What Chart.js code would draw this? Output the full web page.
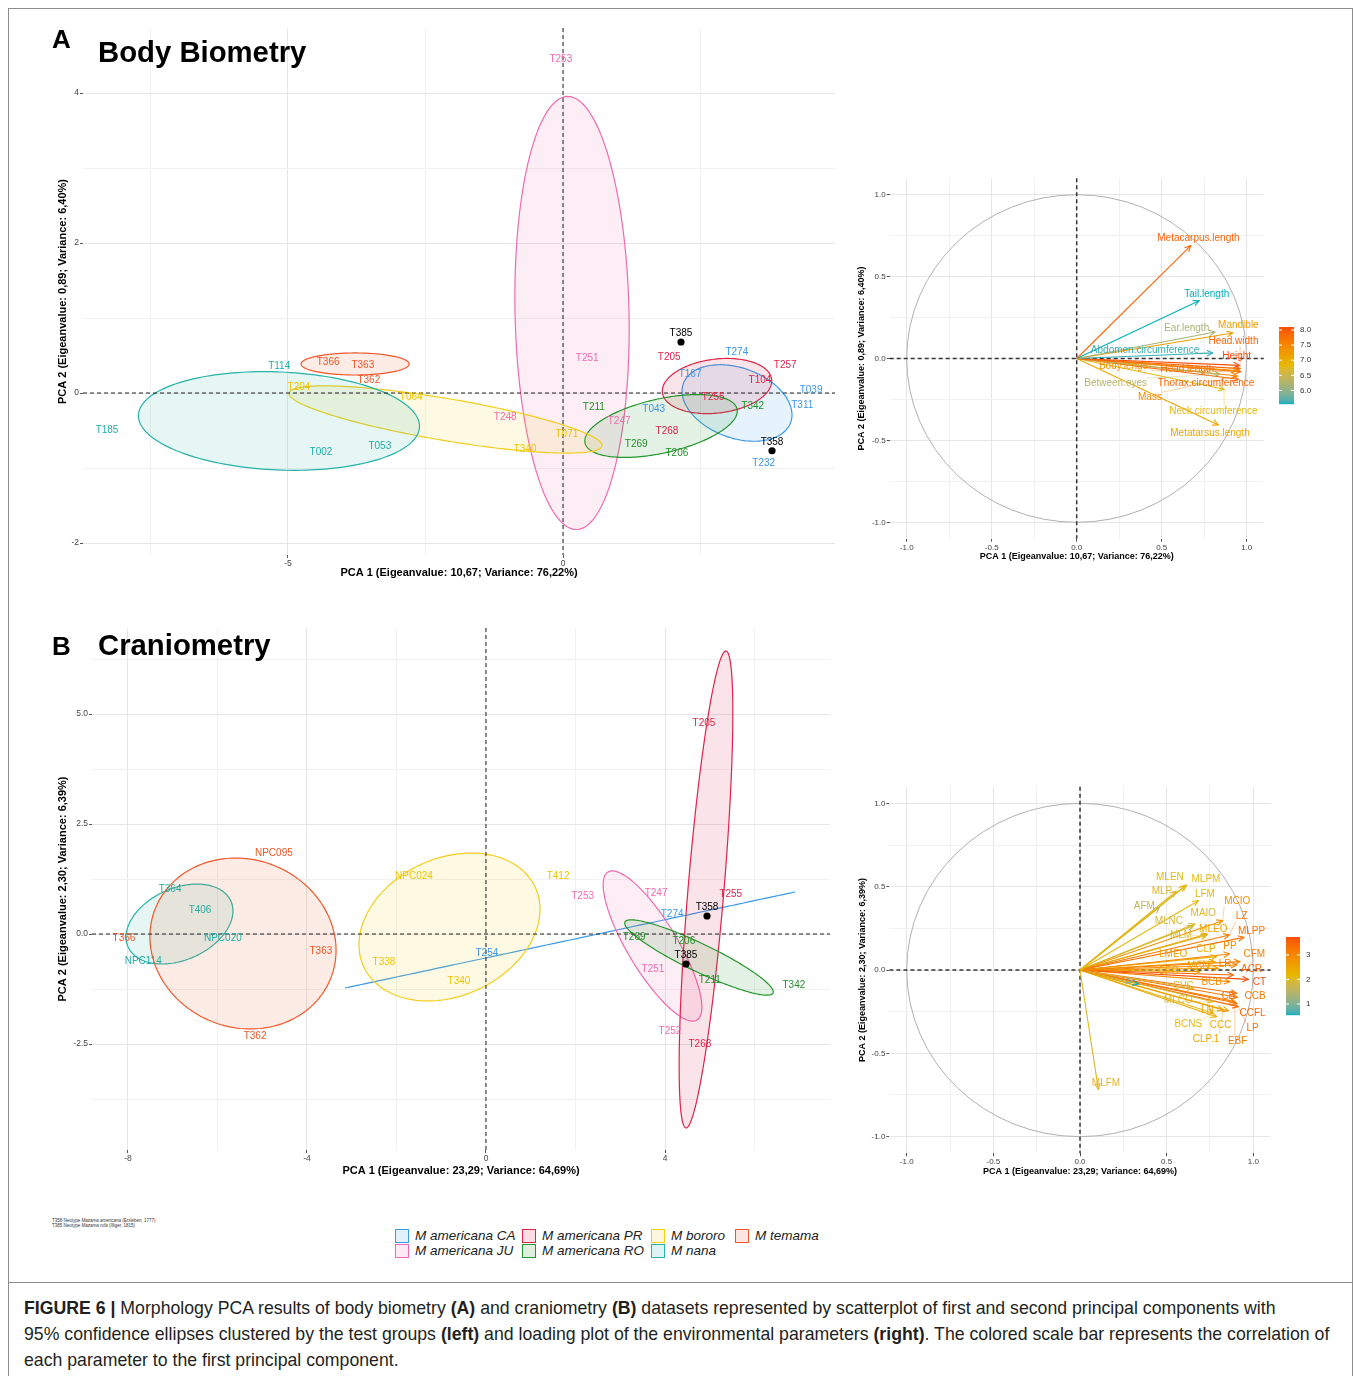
<!DOCTYPE html>
<html><head><meta charset="utf-8">
<script src="https://cdn.jsdelivr.net/npm/chart.js@4.4.1/dist/chart.umd.min.js"></script>
<style>
html,body{margin:0;padding:0;background:#fff;}
#page{position:relative;width:1354px;height:1376px;overflow:hidden;font-family:"Liberation Sans",Arial,Helvetica,sans-serif;background:#fff;}
canvas{position:absolute;}
.abs{position:absolute;white-space:nowrap;line-height:1;}
.ttl{font-weight:bold;color:#000;}
.leg{position:absolute;display:flex;align-items:center;height:15px;font-style:italic;font-size:13.5px;color:#222;white-space:nowrap;}
.leg span.sq{display:inline-block;width:12px;height:12px;border:1.5px solid;margin-right:6px;}
.cap{position:absolute;left:24px;top:1295px;font-size:17.7px;line-height:26px;color:#231f20;white-space:nowrap;}
.line{position:absolute;background:#8c8c8c;}
</style></head>
<body><div id="page">
<div class="line" style="left:8px;top:8px;width:1345px;height:1px"></div>
<div class="line" style="left:8px;top:8px;width:1px;height:1368px"></div>
<div class="line" style="left:1352px;top:8px;width:1px;height:1368px"></div>
<div class="line" style="left:8px;top:1282px;width:1345px;height:1px"></div>

<canvas id="cA" width="850" height="600" style="left:0px;top:0px"></canvas>
<canvas id="cLA" width="510" height="430" style="left:840px;top:150px"></canvas>
<canvas id="cB" width="850" height="600" style="left:0px;top:600px"></canvas>
<canvas id="cLB" width="510" height="430" style="left:840px;top:760px"></canvas>

<div class="abs ttl" style="left:52px;top:26px;font-size:26px;">A</div>
<div class="abs ttl" style="left:98px;top:37px;font-size:29.3px;">Body Biometry</div>
<div class="abs ttl" style="left:52px;top:633px;font-size:26px;">B</div>
<div class="abs ttl" style="left:98px;top:630px;font-size:29.3px;">Craniometry</div>

<div class="abs" style="left:52px;top:1218px;font-size:4.5px;line-height:5px;color:#333;">T358 Neotype <i>Mazama americana</i> (Erxleben, 1777)<br>T385 Neotype <i>Mazama rufa</i> (Illiger, 1815)</div>
<div id="legend"></div>

<div class="cap"><b>FIGURE 6 |</b> Morphology PCA results of body biometry <b>(A)</b> and craniometry <b>(B)</b> datasets represented by scatterplot of first and second principal components with<br>95% confidence ellipses clustered by the test groups <b>(left)</b> and loading plot of the environmental parameters <b>(right)</b>. The colored scale bar represents the correlation of<br>each parameter to the first principal component.</div>
</div>
<script>
// ================= DATA =================
const groupNames = ['M americana CA','M americana JU','M americana PR','M americana RO','M bororo','M nana','M temama'];

// ---- Body biometry: individual scores (PC1, PC2) ----
const bodyIds   = ['T039','T311','T232','T274','T167','T043','T253','T251','T248','T247','T205','T104','T255','T268','T257','T211','T269','T206','T342','T204','T064','T071','T340','T114','T185','T002','T053','T366','T363','T362'];
const bodyPC1   = [4.51, 4.35, 3.65, 3.16, 2.31, 1.65, -0.04, 0.44, -1.05, 1.02, 1.93, 3.58, 2.73, 1.89, 4.04, 0.56, 1.33, 2.07, 3.45, -4.80, -2.76, 0.07, -0.69, -5.16, -8.29, -4.40, -3.33, -4.27, -3.64, -3.53];
const bodyPC2   = [0.04, -0.16, -0.93, 0.55, 0.25, -0.21, 4.45, 0.47, -0.32, -0.37, 0.48, 0.17, -0.05, -0.51, 0.37, -0.19, -0.68, -0.80, -0.17, 0.08, -0.05, -0.55, -0.75, 0.36, -0.49, -0.79, -0.71, 0.41, 0.37, 0.17];
const bodyGroup = [0,0,0,0,0,0, 1,1,1,1, 2,2,2,2,2, 3,3,3,3, 4,4,4,4, 5,5,5,5, 6,6,6];
const bodyTypeIds = ['T385','T358'];
const bodyTypePC1 = [2.145, 3.80];
const bodyTypePC2 = [0.68, -0.77];
// 95% ellipses per group: centre, semi-axis U, conjugate semi-axis V (PC units)
const bodyEllCenter = [[3.164,-0.133],[0.164,1.067],[2.80,0.093],[1.782,-0.44],[-2.136,-0.353],[-5.164,-0.373],[-3.78,0.387]];
const bodyEllU      = [[0.975,-0.26],[0.082,-2.887],[0.993,0.089],[1.382,0.227],[2.845,-0.353],[2.555,-0.08],[0.982,0]];
const bodyEllV      = [[-0.218,-0.439],[1.036,0.016],[0.06,-0.357],[0.107,-0.352],[-0.064,-0.276],[-0.038,-0.653],[0,0.147]];
const bodyXTicks  = [-7.5,-5,-2.5,0,2.5];
const bodyXLabels = ['','-5','','0',''];
const bodyYTicks  = [-2,-1,0,1,2,3,4];
const bodyYLabels = ['-2','','0','','2','','4'];

// ---- Craniometry: individual scores ----
const cranIds   = ['T254','T274','T253','T247','T251','T252','T205','T255','T268','T269','T206','T211','T342','NPC024','T412','T338','T340','T364','T406','NPC020','NPC114','NPC095','T366','T363','T362'];
const cranPC1   = [0.02, 4.16, 2.16, 3.80, 3.73, 4.11, 4.87, 5.47, 4.78, 3.31, 4.42, 5.00, 6.88, -1.61, 1.61, -2.28, -0.605, -7.06, -6.39, -5.88, -7.66, -4.74, -8.09, -3.69, -5.16];
const cranPC2   = [-0.43, 0.45, 0.86, 0.93, -0.80, -2.20, 4.80, 0.91, -2.50, -0.07, -0.16, -1.05, -1.16, 1.32, 1.32, -0.64, -1.07, 1.02, 0.545, -0.09, -0.61, 1.84, -0.09, -0.39, -2.32];
const cranGroup = [0,0, 1,1,1,1, 2,2,2, 3,3,3,3, 4,4,4,4, 5,5,5,5, 6,6,6,6];
const cranTypeIds = ['T358','T385'];
const cranTypePC1 = [4.939, 4.469];
const cranTypePC2 = [0.409, -0.682];
const cranEllCenter = [[1.877,-0.136],[3.721,-0.273],[4.916,1.011],[4.76,-0.534],[-0.816,0.159],[-6.849,0.227],[-5.43,-0.216]];
const cranEllU      = [[5.028,1.091],[0.994,-1.682],[0.447,5.42],[1.654,-0.807],[1.917,0.902],[1.149,0.52],[1.96,-0.793]];
const cranEllV      = [[0,0],[0.478,0.293],[0.4,-0.034],[-0.136,-0.286],[0.646,-1.418],[0.326,-0.745],[-0.695,-1.773]];
const cranXTicks  = [-8,-6,-4,-2,0,2,4,6];
const cranXLabels = ['-8','','-4','','0','','4',''];
const cranYTicks  = [-3.75,-2.5,-1.25,0,1.25,2.5,3.75,5,6.25];
const cranYLabels = ['','-2.5','','0.0','','2.5','','5.0',''];

// ---- Body biometry: variable loadings ----
const bodyVars    = ['Metacarpus.length','Tail.length','Ear.length','Mandible','Abdomen.circumference','Head.width','Height','Body.length','Head.length','Between.eyes','Thorax.circumference','Mass','Neck.circumference','Metatarsus.length'];
const bodyDim1    = [0.671, 0.72, 0.814, 0.918, 0.80, 0.961, 0.957, 0.941, 0.965, 0.843, 0.951, 0.945, 0.867, 0.833];
const bodyDim2    = [0.689, 0.353, 0.162, 0.156, 0.034, -0.062, -0.042, -0.074, -0.08, -0.097, -0.127, -0.107, -0.188, -0.406];
const bodyContrib = [7.9, 5.55, 6.2, 7.2, 5.6, 7.9, 8.1, 7.4, 7.8, 6.3, 7.9, 7.5, 6.8, 7.1];
const bodyLabX    = [0.716, 0.765, 0.647, 0.951, 0.402, 0.922, 0.941, 0.284, 0.651, 0.229, 0.761, 0.431, 0.804, 0.784];
const bodyLabY    = [0.733, 0.392, 0.184, 0.20, 0.048, 0.103, 0.015, -0.05, -0.066, -0.15, -0.152, -0.237, -0.323, -0.457];
const bodyBarTicks  = [6.0, 6.5, 7.0, 7.5, 8.0];
const bodyBarLabels = ['6.0','6.5','7.0','7.5','8.0'];

// ---- Craniometry: variable loadings ----
const cranVars    = ['MLEN','MLPM','MLP','AFM','LFM','MCIO','MAIO','LZ','MLNC','MLEO','MLPP','MLM','PP','CLP','CFM','LMEO','LR','MCN','ACR','CFO','CT','BCB','CVC','CB','CCB','MLCO','CCFL','LN','CCC','BCNS','LP','CLP.1','EBF','MLFM','',''];
const cranDim1    = [0.606, 0.615, 0.554, 0.458, 0.683, 0.823, 0.663, 0.862, 0.654, 0.735, 0.946, 0.731, 0.862, 0.788, 0.923, 0.779, 0.904, 0.798, 0.885, 0.692, 0.971, 0.865, 0.654, 0.904, 0.908, 0.769, 0.913, 0.856, 0.788, 0.769, 0.904, 0.827, 0.894, 0.106, 0.337, 0.298];
const cranDim2    = [0.504, 0.51, 0.472, 0.376, 0.416, 0.296, 0.276, 0.21, 0.266, 0.216, 0.196, 0.208, 0.096, 0.08, 0.05, 0.05, 0.03, 0.01, -0.03, -0.01, -0.056, -0.07, -0.11, -0.14, -0.164, -0.19, -0.22, -0.244, -0.28, -0.26, -0.20, -0.24, -0.19, -0.716, -0.084, -0.07];
const cranContrib = [2.1, 2.1, 2.0, 1.6, 2.1, 2.8, 2.0, 3.2, 1.9, 2.5, 3.3, 2.0, 3.0, 2.3, 3.1, 2.5, 3.0, 2.6, 3.5, 2.5, 3.73, 2.9, 1.9, 3.3, 3.2, 2.0, 3.4, 2.6, 2.4, 2.1, 3.3, 2.5, 3.1, 2.0, 0.55, 0.9];
const cranLabX    = [0.519, 0.727, 0.473, 0.371, 0.721, 0.908, 0.712, 0.933, 0.513, 0.769, 0.99, 0.583, 0.865, 0.727, 1.006, 0.538, 0.837, 0.683, 0.99, 0.51, 1.035, 0.76, 0.596, 0.856, 1.01, 0.567, 0.996, 0.735, 0.812, 0.625, 0.996, 0.727, 0.91, 0.15, 0, 0];
const cranLabY    = [0.558, 0.544, 0.474, 0.384, 0.456, 0.41, 0.34, 0.32, 0.29, 0.246, 0.23, 0.21, 0.144, 0.124, 0.096, 0.096, 0.034, 0.02, 0.004, -0.01, -0.076, -0.074, -0.10, -0.156, -0.16, -0.18, -0.26, -0.24, -0.33, -0.326, -0.35, -0.414, -0.43, -0.68, 0, 0];
const cranBarTicks  = [1, 2, 3];
const cranBarLabels = ['1','2','3'];

const loadTicks  = [-1,-0.75,-0.5,-0.25,0,0.25,0.5,0.75,1];
const loadLabels = ['-1.0','','-0.5','','0.0','','0.5','','1.0'];

// ================= STYLE =================
const FONT = '"Liberation Sans", Arial, Helvetica, sans-serif';
Chart.defaults.font.family = FONT;
const groupColors = ['#3b9ae8','#f06aaf','#dc2448','#23962b','#f2cd1c','#26b2a7','#f0582a'];
const groupText   = ['#3a96ea','#f06aaf','#dc2448','#1f8f26','#efc400','#22aea3','#ef5525'];

function hex2rgb(h){return [1,3,5].map(i=>parseInt(h.substr(i,2),16));}
function rgb2lab(c){
  const lin=v=>{v/=255;return v<=0.04045?v/12.92:Math.pow((v+0.055)/1.055,2.4);};
  const R=lin(c[0]),G=lin(c[1]),B=lin(c[2]);
  const X=(0.4124*R+0.3576*G+0.1805*B)/0.95047,Y=0.2126*R+0.7152*G+0.0722*B,Z=(0.0193*R+0.1192*G+0.9505*B)/1.08883;
  const f=t=>t>0.008856?Math.cbrt(t):7.787*t+16/116;
  const fx=f(X),fy=f(Y),fz=f(Z);
  return [116*fy-16,500*(fx-fy),200*(fy-fz)];
}
function lab2rgb(l){
  const fy=(l[0]+16)/116,fx=fy+l[1]/500,fz=fy-l[2]/200;
  const fi=t=>{const t3=t*t*t;return t3>0.008856?t3:(t-16/116)/7.787;};
  const X=fi(fx)*0.95047,Y=fi(fy),Z=fi(fz)*1.08883;
  const R=3.2406*X-1.5372*Y-0.4986*Z,G=-0.9689*X+1.8758*Y+0.0415*Z,B=0.0557*X-0.2040*Y+1.0570*Z;
  const g=c=>{c=c<=0.0031308?12.92*c:1.055*Math.pow(c,1/2.4)-0.055;return Math.round(Math.max(0,Math.min(1,c))*255);};
  return [g(R),g(G),g(B)];
}
const gradStops=['#00AFBB','#E7B800','#FC4E07'].map(h=>rgb2lab(hex2rgb(h)));
function gradColor(t){
  t=Math.max(0,Math.min(1,t));const s=t*2;const i=Math.min(1,Math.floor(s));const f=s-i;
  const A=gradStops[i],B=gradStops[i+1];
  const c=lab2rgb([A[0]+(B[0]-A[0])*f,A[1]+(B[1]-A[1])*f,A[2]+(B[2]-A[2])*f]);
  return 'rgb('+c.join(',')+')';
}
function withAlpha(hex,a){const c=hex2rgb(hex);return 'rgba('+c[0]+','+c[1]+','+c[2]+','+a+')';}

// legend
(function(){
  const L=document.getElementById('legend');
  const items=[[0,395,1228],[2,522,1228],[4,651,1228],[6,735,1228],[1,395,1243],[3,522,1243],[5,651,1243]];
  items.forEach(([g,x,y])=>{
    const d=document.createElement('div');d.className='leg';d.style.left=x+'px';d.style.top=y+'px';
    d.innerHTML='<span class="sq" style="border-color:'+groupColors[g]+';background:'+withAlpha(groupColors[g],0.15)+'"></span>'+groupNames[g];
    L.appendChild(d);
  });
})();

// ================= SCALES =================
function axisScale(axis,min,max,ticks,labels,title,titleSize,tickSize,fixed,titlePad){
  return {
    type:'linear',position:axis==='x'?'bottom':'left',min:min,max:max,bounds:'data',
    afterBuildTicks:s=>{s.ticks=ticks.map(v=>({value:v}));},
    afterFit:s=>{if(axis==='x')s.height=fixed;else s.width=fixed;},
    ticks:{autoSkip:false,maxRotation:0,minRotation:0,padding:1,color:'#444',font:{family:FONT,size:tickSize},callback:(v,i)=>labels[i]},
    grid:{drawTicks:true,tickLength:3,lineWidth:1,
      color:c=>labels[c.index]!==''?'#e6e6e6':'#f1f1f1',
      tickColor:c=>labels[c.index]!==''?'#555':'rgba(0,0,0,0)'},
    border:{display:false},
    title:{display:true,text:title,color:'#000',font:{family:FONT,size:titleSize,weight:'bold'},padding:{top:titlePad,bottom:0}}
  };
}
function px(chart,x,y){return [chart.scales.x.getPixelForValue(x),chart.scales.y.getPixelForValue(y)];}

function zeroLines(width,dash,color){
  return {id:'zeroLines',beforeDatasetsDraw(chart){
    const {ctx,chartArea:a}=chart;const o=px(chart,0,0);
    ctx.save();ctx.strokeStyle=color;ctx.lineWidth=width;ctx.setLineDash(dash);
    ctx.beginPath();ctx.moveTo(o[0],a.top);ctx.lineTo(o[0],a.bottom);ctx.moveTo(a.left,o[1]);ctx.lineTo(a.right,o[1]);ctx.stroke();ctx.restore();
  }};
}

function ellipsePlugin(centers,U,V){
  return {id:'ellipses',beforeDatasetsDraw(chart){
    const {ctx,chartArea:a}=chart;
    ctx.save();ctx.beginPath();ctx.rect(a.left,a.top,a.right-a.left,a.bottom-a.top);ctx.clip();
    centers.forEach((c,i)=>{
      const p0=px(chart,c[0],c[1]);const pu=px(chart,c[0]+U[i][0],c[1]+U[i][1]);const pv=px(chart,c[0]+V[i][0],c[1]+V[i][1]);
      const ux=pu[0]-p0[0],uy=pu[1]-p0[1],vx=pv[0]-p0[0],vy=pv[1]-p0[1];
      ctx.beginPath();
      for(let k=0;k<=180;k++){const t=2*Math.PI*k/180;const x=p0[0]+ux*Math.cos(t)+vx*Math.sin(t),y=p0[1]+uy*Math.cos(t)+vy*Math.sin(t);if(k===0)ctx.moveTo(x,y);else ctx.lineTo(x,y);}
      ctx.closePath();
      ctx.fillStyle=withAlpha(groupColors[i],0.12);ctx.fill();
      ctx.strokeStyle=groupColors[i];ctx.lineWidth=1.2;ctx.stroke();
    });
    ctx.restore();
  }};
}

const scoreLabels={id:'scoreLabels',afterDatasetsDraw(chart){
  const ctx=chart.ctx;ctx.save();ctx.font='10px '+FONT;ctx.textAlign='center';ctx.textBaseline='middle';
  chart.data.datasets.forEach((ds,di)=>{
    const meta=chart.getDatasetMeta(di);
    meta.data.forEach((el,i)=>{
      ctx.fillStyle=ds.textColor;
      ctx.fillText(ds.ids[i],el.x,el.y+(ds.kind==='type'?-8.5:0));
    });
  });
  ctx.restore();
}};

function scoreChart(id,o){
  const datasets=groupNames.map((g,gi)=>{
    const data=[],ids=[];
    o.ids.forEach((s,i)=>{if(o.group[i]===gi){data.push({x:o.pc1[i],y:o.pc2[i]});ids.push(s);}});
    return {label:g,data:data,ids:ids,textColor:groupText[gi],kind:'label',pointRadius:0,pointHoverRadius:0};
  });
  datasets.push({label:'Neotypes',data:o.typeIds.map((s,i)=>({x:o.tpc1[i],y:o.tpc2[i]})),ids:o.typeIds,textColor:'#000',kind:'type',pointRadius:3.6,pointBackgroundColor:'#000',pointBorderWidth:0});
  return new Chart(document.getElementById(id),{
    type:'scatter',data:{datasets:datasets},
    options:{responsive:false,animation:false,events:[],layout:{padding:o.pad},
      plugins:{legend:{display:false},tooltip:{enabled:false}},
      scales:{x:axisScale('x',o.xr[0],o.xr[1],o.xt,o.xl,'PCA 1 (Eigeanvalue: '+o.ev1+')',11,8.5,o.xh,0),
              y:axisScale('y',o.yr[0],o.yr[1],o.yt,o.yl,'PCA 2 (Eigeanvalue: '+o.ev2+')',11,8.5,o.yw,1)}},
    plugins:[ellipsePlugin(o.ec,o.eu,o.ev),zeroLines(1,[4,3],'#222'),scoreLabels]
  });
}

function loadingChart(id,o){
  const cmin=Math.min(...o.contrib),cmax=Math.max(...o.contrib);
  const cols=o.contrib.map(c=>gradColor((c-cmin)/(cmax-cmin)));
  const datasets=o.vars.map((v,i)=>({label:v,data:[{x:0,y:0},{x:o.d1[i],y:o.d2[i]}],showLine:true,borderColor:cols[i],borderWidth:1.1,pointRadius:0,fill:false}));
  const circle={id:'circle',beforeDatasetsDraw(chart){
    const ctx=chart.ctx;const c=px(chart,0,0),e=px(chart,1,1);
    ctx.save();ctx.strokeStyle='#b0b0b0';ctx.lineWidth=1;ctx.beginPath();ctx.ellipse(c[0],c[1],Math.abs(e[0]-c[0]),Math.abs(e[1]-c[1]),0,0,Math.PI*2);ctx.stroke();ctx.restore();
  }};
  const heads={id:'heads',afterDatasetsDraw(chart){
    const ctx=chart.ctx;ctx.save();ctx.lineWidth=1.1;
    chart.data.datasets.forEach((ds,di)=>{
      const m=chart.getDatasetMeta(di);const a=m.data[0],b=m.data[1];
      const ang=Math.atan2(b.y-a.y,b.x-a.x),L=6.5,w=0.45;
      ctx.strokeStyle=ds.borderColor;ctx.beginPath();
      ctx.moveTo(b.x-L*Math.cos(ang-w),b.y-L*Math.sin(ang-w));ctx.lineTo(b.x,b.y);ctx.lineTo(b.x-L*Math.cos(ang+w),b.y-L*Math.sin(ang+w));ctx.stroke();
    });
    ctx.font='10px '+FONT;ctx.textAlign='center';ctx.textBaseline='middle';
    o.vars.forEach((v,i)=>{
      if(!v)return;
      const p=px(chart,o.lx[i],o.ly[i]);const tip=chart.getDatasetMeta(i).data[1];
      const w=ctx.measureText(v).width,h=10;
      const nx=Math.max(p[0]-w/2,Math.min(tip.x,p[0]+w/2)),ny=Math.max(p[1]-h/2,Math.min(tip.y,p[1]+h/2));
      if(Math.hypot(nx-tip.x,ny-tip.y)>8){ctx.save();ctx.globalAlpha=0.55;ctx.lineWidth=0.7;ctx.strokeStyle=cols[i];ctx.beginPath();ctx.moveTo(nx,ny);ctx.lineTo(tip.x,tip.y);ctx.stroke();ctx.restore();}
      ctx.fillStyle=cols[i];ctx.fillText(v,p[0],p[1]);
    });
    ctx.restore();
  }};
  const bar={id:'colorbar',afterDraw(chart){
    const ctx=chart.ctx;const r=o.bar;ctx.save();
    for(let y=0;y<r[3];y++){const val=cmax-(y+0.5)/r[3]*(cmax-cmin);ctx.fillStyle=gradColor((val-cmin)/(cmax-cmin));ctx.fillRect(r[0],r[1]+y,r[2],1.2);}
    ctx.font='8px '+FONT;ctx.fillStyle='#333';ctx.textAlign='left';ctx.textBaseline='middle';
    o.bt.forEach((t,i)=>{
      const y=r[1]+(cmax-t)/(cmax-cmin)*r[3];
      ctx.strokeStyle='#fff';ctx.lineWidth=1;ctx.beginPath();ctx.moveTo(r[0],y);ctx.lineTo(r[0]+3,y);ctx.moveTo(r[0]+r[2]-3,y);ctx.lineTo(r[0]+r[2],y);ctx.stroke();
      ctx.fillText(o.bl[i],r[0]+r[2]+6,y);
    });
    ctx.restore();
  }};
  return new Chart(document.getElementById(id),{
    type:'scatter',data:{datasets:datasets},
    options:{responsive:false,animation:false,events:[],layout:{padding:o.pad},
      plugins:{legend:{display:false},tooltip:{enabled:false}},
      scales:{x:axisScale('x',-1.1,1.1,loadTicks,loadLabels,'PCA 1 (Eigeanvalue: '+o.ev1+')',9,8,o.xh,0),
              y:axisScale('y',-1.1,1.1,loadTicks,loadLabels,'PCA 2 (Eigeanvalue: '+o.ev2+')',9,8,o.yw,1)}},
    plugins:[circle,zeroLines(1.5,[4,3],'#333'),heads,bar]
  });
}

scoreChart('cA',{ids:bodyIds,pc1:bodyPC1,pc2:bodyPC2,group:bodyGroup,typeIds:bodyTypeIds,tpc1:bodyTypePC1,tpc2:bodyTypePC2,
  ec:bodyEllCenter,eu:bodyEllU,ev:bodyEllV,xr:[-8.727,4.945],yr:[-2.16,4.867],xt:bodyXTicks,xl:bodyXLabels,yt:bodyYTicks,yl:bodyYLabels,
  ev1:'10,67; Variance: 76,22%',ev2:'0,89; Variance: 6,40%',pad:{left:55,top:28,right:15,bottom:20},xh:25,yw:28});
scoreChart('cB',{ids:cranIds,pc1:cranPC1,pc2:cranPC2,group:cranGroup,typeIds:cranTypeIds,tpc1:cranTypePC1,tpc2:cranTypePC2,
  ec:cranEllCenter,eu:cranEllU,ev:cranEllV,xr:[-8.804,7.687],yr:[-4.909,6.955],xt:cranXTicks,xl:cranXLabels,yt:cranYTicks,yl:cranYLabels,
  ev1:'23,29; Variance: 64,69%',ev2:'2,30; Variance: 6,39%',pad:{left:55,top:28,right:20,bottom:22},xh:28,yw:37});
loadingChart('cLA',{vars:bodyVars,d1:bodyDim1,d2:bodyDim2,contrib:bodyContrib,lx:bodyLabX,ly:bodyLabY,bt:bodyBarTicks,bl:bodyBarLabels,
  ev1:'10,67; Variance: 76,22%',ev2:'0,89; Variance: 6,40%',pad:{left:15.6,top:28.3,right:86.3,bottom:17.6},xh:23.7,yw:34.1,bar:[439,177,15,77]});
loadingChart('cLB',{vars:cranVars,d1:cranDim1,d2:cranDim2,contrib:cranContrib,lx:cranLabX,ly:cranLabY,bt:cranBarTicks,bl:cranBarLabels,
  ev1:'23,29; Variance: 64,69%',ev2:'2,30; Variance: 6,39%',pad:{left:16.6,top:26.7,right:79.4,bottom:12.9},xh:23.8,yw:32.8,bar:[446,177,14,78]});
</script>
</body></html>
